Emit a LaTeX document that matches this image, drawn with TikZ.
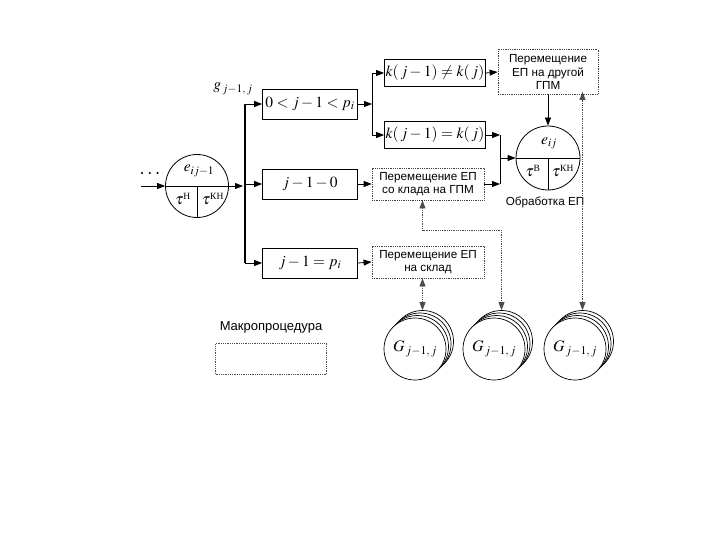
\documentclass[tikz,border=0pt]{standalone}
\usepackage{amsmath}
\usepackage{mathptmx}
\usepackage{fontspec}
\setmainfont{Liberation Serif}
\newfontfamily\sansru{Liberation Sans}
\usetikzlibrary{arrows.meta,positioning}
\tikzset{
    arr/.style={-{Triangle[length=8pt,width=6pt]}},
    darr/.style={{Triangle[length=8pt,width=6pt]}-{Triangle[length=8pt,width=6pt]}},
    condbox/.style={draw, line width=0.8pt, minimum width=95pt, minimum height=30pt, inner sep=1pt, font=\fontsize{15.5}{17}\selectfont},
    movebox/.style={draw=black!75, densely dotted, line width=0.8pt, minimum width=112pt, minimum height=32pt, inner sep=1pt, align=center, font=\sansru\fontsize{11.7}{13.5}\selectfont},
    dotline/.style={draw=black!70, densely dotted, line width=0.8pt},
    ecirc/.style={draw, circle, line width=0.8pt, inner sep=0pt, minimum size=#1},
    gcirc/.style={draw, circle, fill=white, line width=0.7pt, inner sep=0pt, minimum size=62pt, font=\fontsize{16}{18}\selectfont},
    mathlab/.style={inner sep=0pt, font=\fontsize{15.5}{17}\selectfont}
}
\begin{document}
\begin{tikzpicture}[x=1pt,y=-1pt,line width=0.8pt]
    \useasboundingbox (0,0) rectangle (720,540);
    % left event
    \coordinate (start) at (141,186);
    \node[inner sep=0pt, font=\fontsize{20}{20}\selectfont] (dots) at (151,174) {$\cdots$};
    \node[ecirc=63pt] (eprev) at (197,186) {};
    \draw (eprev.west) -- (eprev.east);
    \draw (eprev.center) -- (eprev.south);
    \node[mathlab] (eprevlab) at (199,171) {$e_{ij-1}$};
    \node[mathlab] (tauh) at (183,199) {$\tau^{\text{\fontsize{9.5}{9.5}\selectfont Н}}$};
    \node[mathlab] (taukh) at (213,199) {$\tau^{\text{\fontsize{9.5}{9.5}\selectfont КН}}$};
    \draw[arr] (start) -- (eprev.west);
    % conditions
    \node[condbox] (c1) at (310,104) {$0<j-1<p_i$};
    \node[condbox] (c2) at (310,184) {$j-1-0$};
    \node[condbox] (c3) at (310,263) {$j-1=p_i$};
    \coordinate (bustop) at (245,104);
    \coordinate (busbot) at (245,263);
    \node[mathlab] (glab) at (233,89) {$g_{\,j-1,\,j}$};
    \draw[line width=2.5pt] (bustop) -- (busbot);
    \draw[arr, shorten >=2pt] (eprev.east) -- (eprev.east -| bustop);
    \draw[arr] (bustop) -- (c1.west);
    \draw[arr] (c2.west -| bustop) -- (c2.west);
    \draw[arr] (busbot) -- (c3.west);
    % machine check
    \node[condbox, minimum height=27pt] (kne) at (435,73) {$k(\,j-1)\neq k(\,j)$};
    \node[condbox, minimum height=27pt] (keq) at (435,135) {$k(\,j-1)=k(\,j)$};
    \coordinate (br) at (372,104);
    \draw[arr] (c1.east) -- (br);
    \draw[arr] (br) |- (kne.west);
    \draw[arr] (br) |- (keq.west);
    % moves
    \node[movebox, minimum width=100pt, minimum height=45pt] (mvg) at (548,72) {Перемещение\\ЕП на другой\\ГПМ};
    \node[movebox] (mvsk) at (428,184) {Перемещение ЕП\\со клада на ГПМ};
    \node[movebox] (mvst) at (428,262) {Перемещение ЕП\\на склад};
    \draw[arr] (kne.east) -- (mvg.west);
    \draw[arr] (c2.east) -- (mvsk.west);
    \draw[arr] (c3.east) -- (mvst.west);
    % processing
    \node[ecirc=64pt] (eij) at (548,158) {};
    \draw (eij.west) -- (eij.east);
    \draw (eij.center) -- (eij.south);
    \node[mathlab] (eijlab) at (549,143) {$e_{ij}$};
    \node[mathlab] (taub) at (533,171) {$\tau^{\text{\fontsize{9.5}{9.5}\selectfont В}}$};
    \node[mathlab] (taukn) at (563,171) {$\tau^{\text{\fontsize{9.5}{9.5}\selectfont КН}}$};
    \node[font=\sansru\fontsize{11.7}{13.5}\selectfont, inner sep=0pt] (proc) at (545,202) {Обработка ЕП};
    \coordinate (jn) at (500,158);
    \draw[arr] (mvg.south) -- (eij.north);
    \draw[arr] (keq.east) -- (keq.east -| jn);
    \draw[arr] (mvsk.east) -- (mvsk.east -| jn);
    \draw (keq.east -| jn) -- (mvsk.east -| jn);
    \draw[arr] (jn) -- (eij.west);
    % links
    \foreach \cx [count=\n] in {415,494,575}{
        \foreach \k in {3,2,1}
            \node[gcirc] (g\n b\k) at ({\cx+2.5*\k},{349-2.5*\k}) {};
        \node[gcirc] (g\n) at (\cx,349) {$G_{\,j-1,\,j}$};
    }
    \draw[dotline, darr] (g1b3.north |- mvst.south) -- (g1b3.north);
    \draw[dotline, darr] (g1b3.north |- mvsk.south) -- ++(0,30) -| (g2b3.north);
    \draw[dotline, darr] ([yshift=3pt]g3b3.north |- mvg.south) -- (g3b3.north);
    % legend
    \node[font=\sansru\fontsize{13}{15}\selectfont, inner sep=0pt] (makro) at (271,327) {Макропроцедура};
    \node[dotline, minimum width=111pt, minimum height=31pt, below=10pt of makro] (mbox) {};
\end{tikzpicture}
\end{document}
